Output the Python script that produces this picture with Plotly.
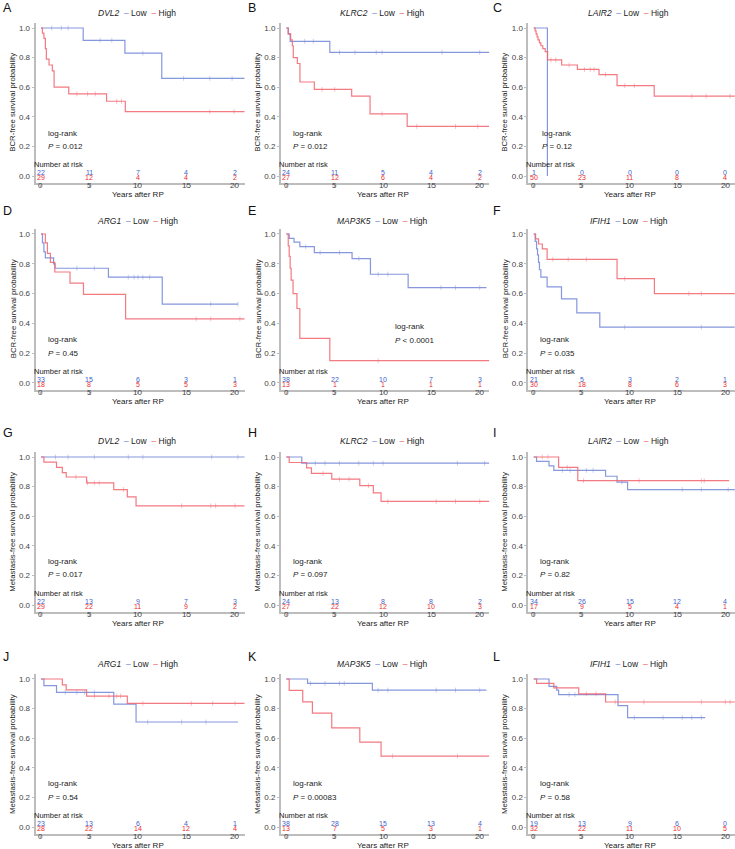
import plotly.graph_objects as go

W, H = 735, 849
FONT = "Liberation Sans, Arial, sans-serif"
BLUE_LINE = "#7286D8"
RED_LINE = "#F2636D"
BLUE_TXT = "#3E5FCC"
RED_TXT = "#EE2B2B"
AXIS_COL = "#BDBDBD"
TICK_COL = "#444444"

# ---------------- shared labels ----------------
panel_letters = ["A", "B", "C", "D", "E", "F", "G", "H", "I", "J", "K", "L"]
genes = ["DVL2", "KLRC2", "LAIR2", "ARG1", "MAP3K5", "IFIH1",
         "DVL2", "KLRC2", "LAIR2", "ARG1", "MAP3K5", "IFIH1"]
y_titles = ["BCR-free survival probability"] * 6 + ["Metastasis-free survival probability"] * 6
x_title = "Years after RP"
p_values = ["= 0.012", "= 0.012", "= 0.12", "= 0.45", "< 0.0001", "= 0.035",
            "= 0.017", "= 0.097", "= 0.82", "= 0.54", "= 0.00083", "= 0.58"]
logrank_x = [0.5, 0.5, 0.65, 0.5, 11.0, 0.5, 0.5, 0.5, 0.5, 0.5, 0.5, 0.5]
logrank_y = [0.29, 0.29, 0.29, 0.29, 0.38, 0.29, 0.297, 0.297, 0.297, 0.297, 0.297, 0.297]
x_ticks = [0, 5, 10, 15, 20]
x_tick_text = ["0", "5", "10", "15", "20"]
y_ticks = [0.0, 0.2, 0.4, 0.6, 0.8, 1.0]
y_tick_text = ["0.0", "0.2", "0.4", "0.6", "0.8", "1.0"]
risk_times = [0, 5, 10, 15, 20]

# ---------------- numbers at risk ----------------
risk_low = [[22, 11, 7, 4, 2], [24, 11, 5, 4, 2], [1, 0, 0, 0, 0],
            [33, 15, 6, 3, 1], [38, 22, 10, 7, 3], [21, 5, 3, 2, 1],
            [22, 13, 9, 7, 3], [24, 13, 8, 8, 2], [34, 26, 15, 12, 4],
            [23, 13, 6, 4, 1], [38, 28, 15, 13, 4], [19, 13, 9, 6, 0]]
risk_high = [[29, 12, 4, 4, 2], [27, 12, 6, 4, 2], [50, 23, 11, 8, 4],
             [18, 8, 5, 5, 3], [13, 1, 1, 1, 1], [30, 18, 8, 6, 3],
             [29, 22, 11, 9, 2], [27, 22, 12, 10, 3], [17, 9, 5, 4, 1],
             [28, 22, 14, 12, 4], [13, 7, 5, 3, 1], [32, 22, 11, 10, 5]]

# ---------------- KM step data (time, survival), last follow-up, censor times ----------------
A_low_t = [0, 4.35, 8.65, 12.45];            A_low_s = [1, 0.917, 0.83, 0.66];   A_low_end = 21
A_high_t = [0, 0.15, 0.3, 0.45, 0.55, 0.83, 1.17, 1.35, 2.86, 6.76, 8.69]
A_high_s = [1, 0.965, 0.93, 0.86, 0.79, 0.75, 0.71, 0.60, 0.555, 0.505, 0.435]; A_high_end = 21
A_low_c = [1.1, 2.1, 2.8, 6.1, 7.3, 10.5, 14.7, 17.4, 19.7]
A_high_c = [3.7, 4.8, 5.6, 7.8, 8.3, 17.4, 19.9]

B_low_t = [0, 0.2, 0.4, 4.5];                B_low_s = [1, 0.96, 0.91, 0.835];  B_low_end = 21
B_high_t = [0, 0.2, 0.45, 0.62, 0.72, 1.14, 1.41, 2.9, 6.76, 8.66, 12.5]
B_high_s = [1, 0.96, 0.92, 0.88, 0.80, 0.76, 0.635, 0.585, 0.54, 0.42, 0.335]; B_high_end = 21
B_low_c = [1.9, 2.8, 5.5, 7.1, 9.3, 9.9, 16.1, 20.0]
B_high_c = [3.7, 5.0, 9.9, 13.5, 17.5, 19.8]

C_low_t = [0, 1.43];                         C_low_s = [1, 0.0];                C_low_end = 1.43
C_high_t = [0, 0.15, 0.25, 0.35, 0.45, 0.6, 0.75, 0.95, 1.2, 1.45, 2.92, 4.56, 6.82, 8.7, 12.58]
C_high_s = [1, 0.98, 0.96, 0.94, 0.92, 0.90, 0.88, 0.86, 0.84, 0.785, 0.75, 0.72, 0.685, 0.61, 0.54]; C_high_end = 21
C_low_c = []
C_high_c = [1.8, 2.3, 3.7, 5.3, 5.9, 6.3, 7.5, 9.5, 10.5, 16.5, 18.0, 20.5]

D_low_t = [0, 0.15, 0.3, 0.45, 1.3, 1.45, 6.95, 12.5]
D_low_s = [1, 0.94, 0.88, 0.84, 0.80, 0.77, 0.71, 0.53];                       D_low_end = 20.3
D_high_t = [0, 0.45, 0.66, 0.97, 1.42, 2.99, 4.38, 8.72]
D_high_s = [1, 0.94, 0.87, 0.81, 0.745, 0.67, 0.595, 0.43];                    D_high_end = 21
D_low_c = [3.7, 5.5, 9.0, 9.6, 10.0, 10.5, 11.2, 17.5, 20.3]
D_high_c = [16.0, 17.5, 20.5]

E_low_t = [0, 0.3, 0.8, 1.4, 2.9, 6.8, 8.7, 12.6]
E_low_s = [1, 0.97, 0.945, 0.915, 0.875, 0.835, 0.73, 0.64];                   E_low_end = 20.7
E_high_t = [0, 0.2, 0.3, 0.4, 0.5, 0.7, 1.1, 1.4, 4.5]
E_high_s = [1, 0.92, 0.85, 0.77, 0.69, 0.60, 0.50, 0.30, 0.15];                E_high_end = 21
E_low_c = [2.0, 3.5, 5.5, 7.5, 9.5, 10.5, 16.0, 17.5, 20.0]
E_high_c = [9.5]

F_low_t = [0, 0.15, 0.3, 0.4, 0.5, 0.6, 0.75, 1.4, 2.9, 4.5, 6.9]
F_low_s = [1, 0.95, 0.90, 0.86, 0.81, 0.76, 0.71, 0.645, 0.565, 0.47, 0.375];  F_low_end = 21
F_high_t = [0, 0.2, 0.5, 0.9, 1.4, 8.7, 12.6]
F_high_s = [1, 0.967, 0.933, 0.90, 0.83, 0.70, 0.60];                          F_high_end = 21
F_low_c = [9.5, 17.5]
F_high_c = [2.0, 3.6, 5.5, 9.5, 16.2, 17.5]

G_low_t = [0];                               G_low_s = [1];                     G_low_end = 21
G_high_t = [0, 0.3, 1.6, 2.2, 2.6, 4.7, 7.5, 8.9, 9.8]
G_high_s = [1, 0.965, 0.93, 0.895, 0.865, 0.825, 0.78, 0.73, 0.67];            G_high_end = 21
G_low_c = [1.5, 2.8, 5.5, 9.0, 10.5, 17.6, 20.3]
G_high_c = [3.6, 4.8, 5.5, 6.0, 8.5, 14.5, 17.5, 18.0, 20.0]

H_low_t = [0, 1.6];                          H_low_s = [1, 0.958];              H_low_end = 21
H_high_t = [0, 0.3, 2.1, 2.6, 4.7, 7.6, 9.0, 9.8]
H_high_s = [1, 0.963, 0.926, 0.889, 0.85, 0.806, 0.758, 0.70];                 H_high_end = 21
H_low_c = [3.0, 4.0, 5.5, 7.5, 9.0, 10.0, 17.7, 20.5]
H_high_c = [3.8, 5.5, 6.5, 8.5, 10.5, 15.5, 17.5, 20.0]

I_low_t = [0, 0.3, 1.6, 2.1, 7.5, 8.7, 9.8]
I_low_s = [1, 0.97, 0.94, 0.91, 0.87, 0.83, 0.78];                             I_low_end = 21
I_high_t = [0, 2.6, 4.6];                    I_high_s = [1, 0.93, 0.84];       I_high_end = 20.4
I_low_c = [3.0, 3.8, 5.5, 6.2, 9.2, 15.5, 17.5, 20.3]
I_high_c = [0.9, 1.5, 3.5, 5.2, 11.0, 17.5, 17.8]

J_low_t = [0, 0.3, 1.6, 7.5, 9.8];           J_low_s = [1, 0.955, 0.91, 0.83, 0.71]; J_low_end = 20.3
J_high_t = [0, 2.2, 2.6, 4.7, 8.9];          J_high_s = [1, 0.96, 0.926, 0.885, 0.835]; J_high_end = 21
J_low_c = [2.5, 3.7, 4.5, 5.5, 11.0, 14.5, 17.0]
J_high_c = [5.5, 7.0, 7.8, 8.2, 10.5, 15.5, 17.7, 20.0]

K_low_t = [0, 2.2, 8.9];                     K_low_s = [1, 0.97, 0.925];        K_low_end = 20.7
K_high_t = [0, 0.3, 1.7, 2.7, 4.7, 7.6, 9.8]
K_high_s = [1, 0.923, 0.846, 0.77, 0.67, 0.575, 0.48];                         K_high_end = 21
K_low_c = [2.5, 4.0, 5.5, 6.0, 9.5, 10.5, 15.5, 17.5, 20.0]
K_high_c = [11.0, 17.7]

L_low_t = [0, 1.6, 2.4, 2.6, 8.8, 9.8];      L_low_s = [1, 0.95, 0.925, 0.895, 0.82, 0.74]; L_low_end = 17.9
L_high_t = [0, 0.3, 2.1, 4.7, 7.5];          L_high_s = [1, 0.97, 0.94, 0.90, 0.845]; L_high_end = 21
L_low_c = [3.7, 4.3, 10.5, 13.5, 15.5, 16.5, 17.5]
L_high_c = [5.5, 6.5, 8.5, 11.5, 17.5, 20.0, 20.5]

low_curves = [(A_low_t, A_low_s, A_low_end, A_low_c), (B_low_t, B_low_s, B_low_end, B_low_c),
              (C_low_t, C_low_s, C_low_end, C_low_c), (D_low_t, D_low_s, D_low_end, D_low_c),
              (E_low_t, E_low_s, E_low_end, E_low_c), (F_low_t, F_low_s, F_low_end, F_low_c),
              (G_low_t, G_low_s, G_low_end, G_low_c), (H_low_t, H_low_s, H_low_end, H_low_c),
              (I_low_t, I_low_s, I_low_end, I_low_c), (J_low_t, J_low_s, J_low_end, J_low_c),
              (K_low_t, K_low_s, K_low_end, K_low_c), (L_low_t, L_low_s, L_low_end, L_low_c)]
high_curves = [(A_high_t, A_high_s, A_high_end, A_high_c), (B_high_t, B_high_s, B_high_end, B_high_c),
               (C_high_t, C_high_s, C_high_end, C_high_c), (D_high_t, D_high_s, D_high_end, D_high_c),
               (E_high_t, E_high_s, E_high_end, E_high_c), (F_high_t, F_high_s, F_high_end, F_high_c),
               (G_high_t, G_high_s, G_high_end, G_high_c), (H_high_t, H_high_s, H_high_end, H_high_c),
               (I_high_t, I_high_s, I_high_end, I_high_c), (J_high_t, J_high_s, J_high_end, J_high_c),
               (K_high_t, K_high_s, K_high_end, K_high_c), (L_high_t, L_high_s, L_high_end, L_high_c)]

# ---------------- layout geometry (pixels) ----------------
col_x0 = [41.0, 286.3, 533.7]      # pixel of x = 0
col_scale = [9.7, 9.67, 9.58]      # px per year
row_y1 = [28.0, 234.0, 457.0, 679.0]   # pixel of y = 1.0
row_y0 = [176.0, 383.0, 605.0, 827.3]  # pixel of y = 0.0
letter_px_x = [1, 246, 491]
ytitle_px_x = [13, 258, 505]
legend_px_y = [13, 221, 441, 664]
letter_px_y = [8, 211, 433, 657]
XR = [-0.55, 21.0]
YR = [-0.045, 1.035]


def step_value(t_list, s_list, t):
    v = s_list[0]
    for tt, ss in zip(t_list, s_list):
        if tt <= t:
            v = ss
    return v


fig = go.Figure()
annotations = []
layout_axes = {}

for i in range(12):
    r, c = divmod(i, 3)
    sfx = "" if i == 0 else str(i + 1)
    xa, ya = "x" + sfx, "y" + sfx
    sc = col_scale[c]
    left = col_x0[c] + XR[0] * sc
    right = col_x0[c] + XR[1] * sc
    ysc = row_y0[r] - row_y1[r]
    top = row_y0[r] - YR[1] * ysc
    bottom = row_y0[r] - YR[0] * ysc
    dom_x = [max(0, left / W), min(1, right / W)]
    dom_y = [1 - bottom / H, 1 - top / H]

    layout_axes["xaxis" + sfx] = dict(
        domain=dom_x, range=XR, anchor=ya, tickvals=x_ticks, showticklabels=False,
        showgrid=False, zeroline=False, showline=True, linecolor=AXIS_COL, linewidth=2,
        ticks="outside", ticklen=2, tickcolor=AXIS_COL, fixedrange=True)
    layout_axes["yaxis" + sfx] = dict(
        domain=dom_y, range=YR, anchor=xa, tickvals=y_ticks, ticktext=y_tick_text,
        showgrid=False, zeroline=False, showline=True, linecolor=AXIS_COL, linewidth=2,
        ticks="outside", ticklen=2, tickcolor=AXIS_COL, tickfont=dict(size=8, color=TICK_COL, family=FONT),
        fixedrange=True)

    for curves, col in ((low_curves, BLUE_LINE), (high_curves, RED_LINE)):
        t, s, end, cens = curves[i]
        xs = list(t) + [end]
        ys = list(s) + [s[-1]]
        fig.add_trace(go.Scatter(x=xs, y=ys, mode="lines", line=dict(color=col, width=1.2, shape="hv"),
                                 opacity=0.85, xaxis=xa, yaxis=ya, showlegend=False, hoverinfo="skip"))
        if cens:
            cy = [step_value(t, s, ct) for ct in cens]
            fig.add_trace(go.Scatter(x=cens, y=cy, mode="markers",
                                     marker=dict(symbol="line-ns-open", size=3.5, color=col, line=dict(width=0.7, color=col)),
                                     opacity=0.55, xaxis=xa, yaxis=ya, showlegend=False, hoverinfo="skip"))

    # x tick labels (placed tight under the axis line, as in the reference)
    for tv, tt in zip(x_ticks, x_tick_text):
        annotations.append(dict(x=tv, y=1 - (row_y0[r] + 9.3) / H, xref=xa, yref="paper", text=tt,
                                showarrow=False, xanchor="center", yanchor="middle",
                                font=dict(size=8, color=TICK_COL, family=FONT)))

    # number at risk (anchored at the axis start, shifted a few px left)
    annotations.append(dict(x=XR[0], y=0.079, xref=xa, yref=ya, text="Number at risk", showarrow=False,
                            xanchor="left", yanchor="middle", xshift=-4,
                            font=dict(size=7.5, color="#222222", family=FONT)))
    for k, tt in enumerate(risk_times):
        annotations.append(dict(x=tt, y=0.026, xref=xa, yref=ya, text=str(risk_low[i][k]), showarrow=False,
                                xanchor="center", yanchor="middle", font=dict(size=7, color=BLUE_TXT, family=FONT)))
        annotations.append(dict(x=tt, y=-0.011, xref=xa, yref=ya, text=str(risk_high[i][k]), showarrow=False,
                                xanchor="center", yanchor="middle", font=dict(size=7, color=RED_TXT, family=FONT)))
    # log-rank
    annotations.append(dict(x=logrank_x[i], y=logrank_y[i], xref=xa, yref=ya, text="log-rank", showarrow=False,
                            xanchor="left", yanchor="middle", font=dict(size=8, color="#222222", family=FONT)))
    annotations.append(dict(x=logrank_x[i], y=logrank_y[i] - 0.094, xref=xa, yref=ya,
                            text="<i>P</i> " + p_values[i], showarrow=False,
                            xanchor="left", yanchor="middle", font=dict(size=8, color="#222222", family=FONT)))
    # panel letter
    annotations.append(dict(x=letter_px_x[c] / W, y=1 - letter_px_y[r] / H, xref="paper", yref="paper",
                            text=panel_letters[i], showarrow=False, xanchor="left", yanchor="middle",
                            font=dict(size=12.5, color="#111111", family=FONT)))
    # legend line
    leg = ("<i>%s</i>  <span style='color:%s'>–</span> Low  <span style='color:%s'>–</span> High"
           % (genes[i], BLUE_LINE, RED_LINE))
    annotations.append(dict(x=(dom_x[0] + dom_x[1]) / 2 - 3 / W, y=1 - legend_px_y[r] / H, xref="paper", yref="paper",
                            text=leg, showarrow=False, xanchor="center", yanchor="middle",
                            font=dict(size=8.5, color="#222222", family=FONT)))
    # y title
    annotations.append(dict(x=ytitle_px_x[c] / W, y=(dom_y[0] + dom_y[1]) / 2, xref="paper", yref="paper",
                            text=y_titles[i], textangle=-90, showarrow=False, xanchor="center", yanchor="middle",
                            font=dict(size=7.8, color="#222222", family=FONT)))
    # x title
    annotations.append(dict(x=(col_x0[c] + 10 * sc) / W, y=1 - (row_y0[r] + 18.0) / H, xref="paper", yref="paper",
                            text=x_title, showarrow=False, xanchor="center", yanchor="middle",
                            font=dict(size=8, color="#222222", family=FONT)))

fig.update_layout(width=W, height=H, margin=dict(l=0, r=0, t=0, b=0),
                  paper_bgcolor="white", plot_bgcolor="white",
                  annotations=annotations, showlegend=False, **layout_axes)

fig.write_html("out.html", config={"displayModeBar": False},
               post_script="document.body.style.margin='0';")
